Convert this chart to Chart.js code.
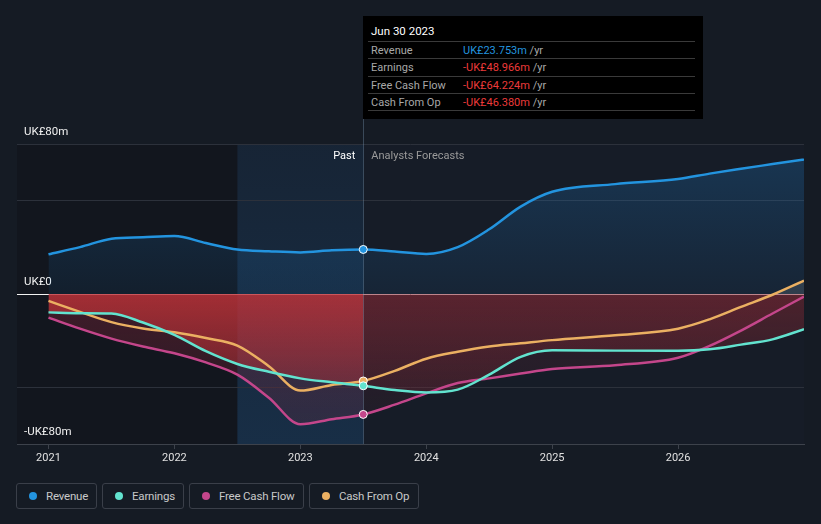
<!DOCTYPE html>
<html>
<head>
<meta charset="utf-8">
<script src="https://cdn.jsdelivr.net/npm/chart.js@4.4.0/dist/chart.umd.min.js"></script>
<style>
    body { margin: 0; background: #151b24; font-family: Roboto, "Noto Sans", sans-serif; }
    #wrap { position: relative; width: 821px; height: 524px; overflow: hidden; background: #151b24; }
    #chartBox { position: absolute; left: 0; top: 0; width: 821px; height: 470px; }
    #tip { position: absolute; left: 363px; top: 16px; width: 340px; height: 103px; background: #000; }
    #tip .date { position: absolute; left: 8px; top: 8px; color: #fff; font-size: 11.5px; }
    #tip .row { position: absolute; left: 5px; width: 327px; height: 17px; border-top: 1px solid #3a3a3a; font-size: 11px; line-height: 17px; }
    #tip .row .k { position: absolute; left: 3px; color: #a8a8a8; }
    #tip .row .v { position: absolute; left: 95px; color: #a8a8a8; }
    #tip .last { position: absolute; left: 5px; width: 327px; top: 94px; border-top: 1px solid #3a3a3a; }
    #legend { position: absolute; left: 16px; top: 483px; display: flex; gap: 5px; }
    .item { height: 26px; border: 1px solid #3a3f49; border-radius: 3px; box-sizing: border-box; display: flex; align-items: center; padding: 0 0 0 12px; color: #c8c8c8; font-size: 11.5px; letter-spacing: -0.2px; white-space: nowrap; }
    .dot { width: 8px; height: 8px; border-radius: 50%; margin-right: 9px; flex: none; }
</style>
</head>
<body>
<div id="wrap">
    <div id="chartBox"><canvas id="chart" width="821" height="470"></canvas></div>
    <div id="tip">
        <div class="date">Jun 30 2023</div>
        <div class="row" style="top:25px"><span class="k">Revenue</span><span class="v"><span style="color:#2394df">UK£23.753m</span> /yr</span></div>
        <div class="row" style="top:42px"><span class="k">Earnings</span><span class="v"><span style="color:#ec3a3a">-UK£48.966m</span> /yr</span></div>
        <div class="row" style="top:60px"><span class="k">Free Cash Flow</span><span class="v"><span style="color:#ec3a3a">-UK£64.224m</span> /yr</span></div>
        <div class="row" style="top:77px"><span class="k">Cash From Op</span><span class="v"><span style="color:#ec3a3a">-UK£46.380m</span> /yr</span></div>
        <div class="last"></div>
    </div>
    <div id="legend"></div>
</div>
<script>
// values in UK£ millions
const years = [2021, 2021.25, 2021.5, 2021.75, 2022, 2022.25, 2022.5, 2022.75, 2023, 2023.25, 2023.5,
               2023.75, 2024, 2024.25, 2024.5, 2024.75, 2025, 2025.5, 2026, 2026.25, 2026.5, 2026.75, 2027];
const revenue = [21.2, 25, 29.5, 30.3, 30.9, 27.2, 23.7, 22.8, 22.2, 23.3, 23.753,
                 22.7, 21.4, 25, 34.5, 46.6, 54.5, 58.6, 61.3, 64.2, 66.8, 69.3, 71.8];
const earnings = [-9.8, -10.2, -10.4, -15.2, -21.8, -30.5, -37.3, -41.5, -45, -47.1, -48.966,
                  -51.2, -52.5, -51, -43, -33.5, -30, -30.2, -30.3, -29.5, -27, -24.2, -18.8];
const freeCashFlow = [-12.6, -18.5, -23.8, -28, -31.6, -36.5, -43, -55.3, -69.5, -66.8, -64.224,
                      -59, -53, -47.5, -45, -42.4, -40, -38, -34, -27.7, -19.5, -10.4, -1.4];
const cashFromOp = [-3.7, -9.5, -15, -18.4, -20.4, -23.5, -27.5, -38.5, -51.5, -48.5, -46.38,
                    -41, -34.5, -30.8, -28, -26.3, -24.6, -22, -18.5, -13.5, -6.9, -0.4, 7.1];

const xTicks = [2021, 2022, 2023, 2024, 2025, 2026];
const yTicks = [-80, -50, 0, 50, 80];
const yLabels = { '-80': '-UK£80m', '0': 'UK£0', '80': 'UK£80m' };

const seriesNames = ['Revenue', 'Earnings', 'Free Cash Flow', 'Cash From Op'];
const seriesColors = ['#2394df', '#62e3cf', '#c4468b', '#ebb062'];
const chipWidths = [81, 82, 115, 110];

const pastStart = 2022.5;   // highlighted band
const nowYear = 2023.5;     // last reported point
const markIdx = years.indexOf(nowYear);

const pts = vals => years.map((x, i) => ({ x, y: vals[i] }));

// 2D fill: different vertical gradient left / right of "now"
const fillCache = {};
function splitFill(chart, key, past, future) {
    const area = chart.chartArea;
    if (!area) return 'transparent';
    if (fillCache[key]) return fillCache[key];
    const xs = chart.scales.x, ys = chart.scales.y;
    const split = xs.getPixelForValue(nowYear);
    const y0 = ys.getPixelForValue(0), yb = area.bottom;
    const off = document.createElement('canvas');
    off.width = chart.width; off.height = chart.height;
    const c = off.getContext('2d');
    [[0, split, past], [split, chart.width, future]].forEach(([a, b, cols]) => {
        const g = c.createLinearGradient(0, y0, 0, yb);
        g.addColorStop(0, cols[0]);
        g.addColorStop(1, cols[1]);
        c.fillStyle = g;
        c.fillRect(a, 0, b - a, chart.height);
    });
    fillCache[key] = chart.ctx.createPattern(off, 'no-repeat');
    return fillCache[key];
}

function revFill(ctx) {
    const { chart } = ctx;
    if (!chart.chartArea) return 'transparent';
    const ys = chart.scales.y;
    const g = chart.ctx.createLinearGradient(0, ys.getPixelForValue(80), 0, ys.getPixelForValue(0));
    g.addColorStop(0, 'rgba(33,150,243,0.22)');
    g.addColorStop(1, 'rgba(33,150,243,0.07)');
    return g;
}

const backdrop = {
    id: 'backdrop',
    beforeDraw(chart) {
        const { ctx, chartArea: a, scales: { x } } = chart;
        const xp = x.getPixelForValue(pastStart), xn = x.getPixelForValue(nowYear);
        ctx.save();
        ctx.fillStyle = '#161c27';
        ctx.fillRect(a.left, a.top, a.width, a.height);
        ctx.fillStyle = '#12161e';
        ctx.fillRect(a.left, a.top, xp - a.left, a.height);
        const g = ctx.createLinearGradient(0, a.top, 0, a.bottom);
        g.addColorStop(0, 'rgba(30,110,180,0.10)');
        g.addColorStop(1, 'rgba(30,110,180,0.22)');
        ctx.fillStyle = g;
        ctx.fillRect(xp, a.top, xn - xp, a.height);
        ctx.restore();
    },
    beforeDatasetsDraw(chart) {
        const { ctx, chartArea: a, scales: { x } } = chart;
        const xn = Math.round(x.getPixelForValue(nowYear)) + 0.5;
        ctx.save();
        ctx.strokeStyle = 'rgba(130,160,190,0.35)';
        ctx.lineWidth = 1;
        ctx.beginPath();
        ctx.moveTo(xn, 119);
        ctx.lineTo(xn, a.bottom);
        ctx.stroke();
        ctx.restore();
    },
    afterDraw(chart) {
        const { ctx, chartArea: a, scales: { x } } = chart;
        const xn = x.getPixelForValue(nowYear);
        ctx.save();
        ctx.font = '11px Roboto, sans-serif';
        ctx.textBaseline = 'middle';
        ctx.textAlign = 'right';
        ctx.fillStyle = '#ffffff';
        ctx.fillText('Past', xn - 8, a.top + 12);
        ctx.textAlign = 'left';
        ctx.fillStyle = '#9a9a9a';
        ctx.fillText('Analysts Forecasts', xn + 8, a.top + 12);
        ctx.restore();
    }
};

const lineBase = (label, vals, color) => ({
    label,
    data: pts(vals),
    borderColor: color,
    borderWidth: 2.5,
    cubicInterpolationMode: 'monotone',
    pointRadius: c => c.dataIndex === markIdx ? 4 : 0,
    pointBackgroundColor: color,
    pointBorderColor: '#ffffff',
    pointBorderWidth: 1,
});

new Chart(document.getElementById('chart'), {
    type: 'line',
    data: {
        datasets: [
            { ...lineBase('Revenue', revenue, seriesColors[0]), fill: 'origin', backgroundColor: revFill },
            { ...lineBase('Earnings', earnings, seriesColors[1]), fill: 'origin',
              backgroundColor: c => splitFill(c.chart, 'earn',
                  ['rgba(200,52,56,0.72)', 'rgba(200,52,56,0.12)'],
                  ['rgba(150,42,52,0.42)', 'rgba(150,42,52,0.06)']) },
            { ...lineBase('Free Cash Flow', freeCashFlow, seriesColors[2]), fill: 'origin',
              backgroundColor: c => splitFill(c.chart, 'fcf',
                  ['rgba(150,40,62,0.35)', 'rgba(150,40,62,0.15)'],
                  ['rgba(130,38,55,0.22)', 'rgba(130,38,55,0.08)']) },
            { ...lineBase('Cash From Op', cashFromOp, seriesColors[3]),
              fill: { target: 'origin', above: 'rgba(210,210,210,0.14)', below: 'rgba(0,0,0,0)' } },
        ]
    },
    options: {
        responsive: false,
        animation: false,
        layout: { padding: { left: 17, right: 17, top: 144, bottom: 0 } },
        plugins: {
            legend: { display: false },
            tooltip: { enabled: false },
            filler: { drawTime: 'beforeDatasetsDraw' }
        },
        scales: {
            x: {
                type: 'linear', min: 2020.75, max: 2027,
                afterBuildTicks: s => { s.ticks = xTicks.map(v => ({ value: v })); },
                afterFit: s => { s.height = 26; },
                ticks: { color: '#e0e0e0', font: { size: 11, family: 'Roboto' }, padding: 3,
                         autoSkip: false, maxRotation: 0, callback: v => String(v) },
                grid: { drawOnChartArea: false, drawTicks: true, tickLength: 5, color: '#3d424b' },
                border: { display: true, color: '#3d424b' }
            },
            y: {
                min: -80, max: 80,
                afterBuildTicks: s => { s.ticks = yTicks.map(v => ({ value: v })); },
                afterFit: s => { s.width = 0; },
                ticks: { mirror: true, padding: 7, labelOffset: -12, autoSkip: false,
                         color: '#f0f0f0', font: { size: 11.5, family: 'Roboto' },
                         callback: v => yLabels[String(v)] || '' },
                grid: { drawTicks: false, color: c => c.tick.value === 0 ? '#f2f2f2' : '#2c313b' },
                border: { display: false }
            }
        }
    },
    plugins: [backdrop]
});

// legend chips
const legend = document.getElementById('legend');
seriesNames.forEach((name, i) => {
    const el = document.createElement('div');
    el.className = 'item';
    el.style.width = chipWidths[i] + 'px';
    el.innerHTML = `<span class="dot" style="background:${seriesColors[i]}"></span>${name}`;
    legend.appendChild(el);
});
</script>
</body>
</html>
